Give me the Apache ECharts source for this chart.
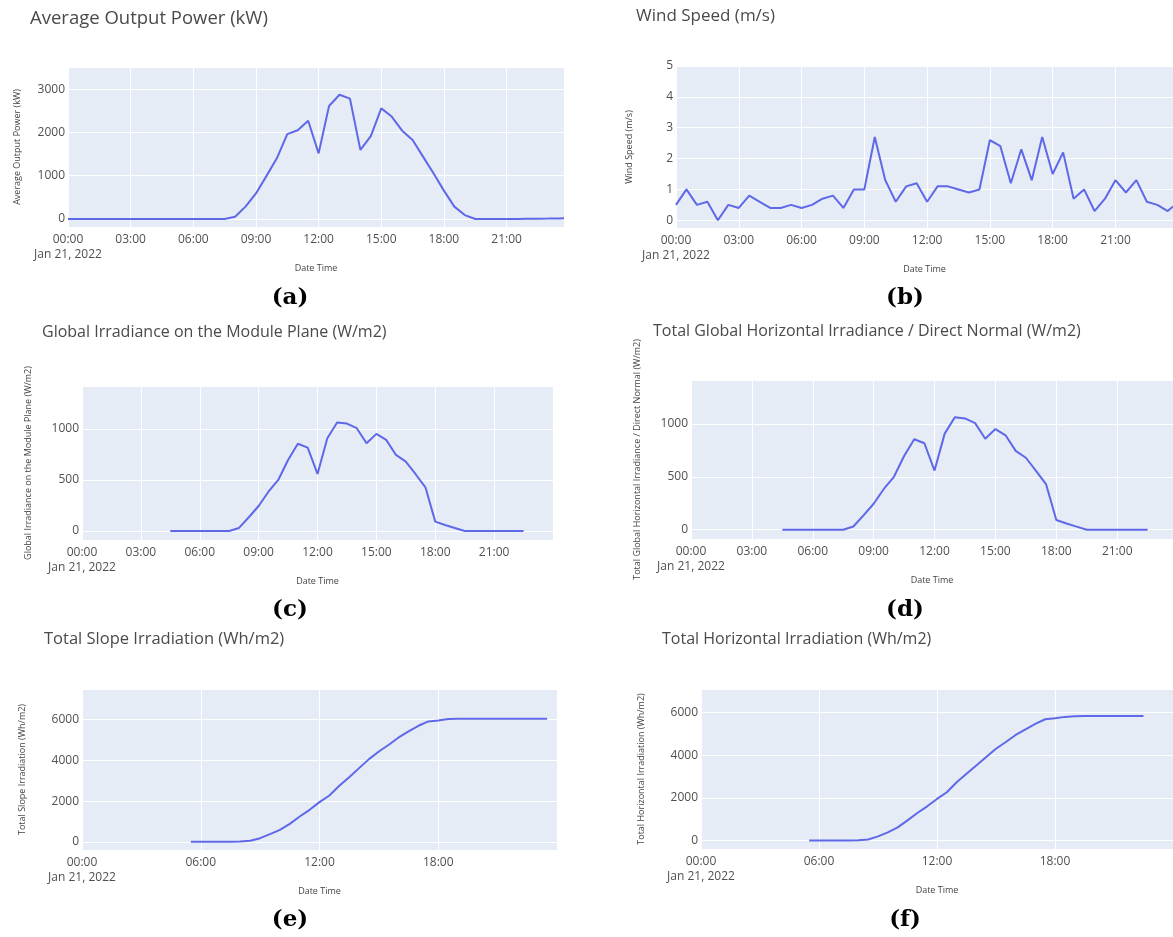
<!DOCTYPE html>
<html>
<head>
<meta charset="utf-8">
<title>PV plant - Jan 21, 2022</title>
<script src="https://cdn.jsdelivr.net/npm/echarts@6/dist/echarts.min.js"></script>
<style>
  html, body { margin: 0; padding: 0; background: #fff; }
  #chart { width: 1173px; height: 937px; }
</style>
</head>
<body>
<div id="chart"></div>
<script>
// ---- data ----
// half-hourly stamps, whole day
const timesDay = ['00:00', '00:30', '01:00', '01:30', '02:00', '02:30', '03:00', '03:30',
  '04:00', '04:30', '05:00', '05:30', '06:00', '06:30', '07:00', '07:30',
  '08:00', '08:30', '09:00', '09:30', '10:00', '10:30', '11:00', '11:30',
  '12:00', '12:30', '13:00', '13:30', '14:00', '14:30', '15:00', '15:30',
  '16:00', '16:30', '17:00', '17:30', '18:00', '18:30', '19:00', '19:30',
  '20:00', '20:30', '21:00', '21:30', '22:00', '22:30', '23:00', '23:30', '23:45'];

// (a) average output power, kW
const outputPower = [0, 0, 0, 0, 0, 0, 0, 0,
  0, 0, 0, 0, 0, 0, 0, 0,
  50, 285, 590, 990, 1400, 1960, 2050, 2270,
  1515, 2610, 2870, 2780, 1595, 1915, 2555, 2365,
  2040, 1825, 1440, 1055, 655, 285, 90, 0,
  0, 0, 0, 0, 5, 8, 10, 14, 15];

// (b) wind speed, m/s
const windSpeed = [0.5, 1.0, 0.5, 0.6, 0, 0.5, 0.4, 0.8,
  0.6, 0.4, 0.4, 0.5, 0.4, 0.5, 0.7, 0.8,
  0.4, 1.0, 1.0, 2.7, 1.3, 0.6, 1.1, 1.2,
  0.6, 1.1, 1.1, 1.0, 0.9, 1.0, 2.6, 2.4,
  1.2, 2.3, 1.3, 2.7, 1.5, 2.2, 0.7, 1.0,
  0.3, 0.7, 1.3, 0.9, 1.3, 0.6, 0.5, 0.3, 0.45];

// (c) / (d) irradiance, W/m2 (both panels show the same curve)
const timesIrr = ['04:30', '05:00', '05:30', '06:00', '06:30', '07:00', '07:30',
  '08:00', '08:30', '09:00', '09:30', '10:00', '10:30', '11:00', '11:30',
  '12:00', '12:30', '13:00', '13:30', '14:00', '14:30', '15:00', '15:30',
  '16:00', '16:30', '17:00', '17:30', '18:00', '18:30', '19:00', '19:30',
  '20:00', '20:30', '21:00', '21:30', '22:00', '22:30'];
const irrModule = [0, 0, 0, 0, 0, 0, 0,
  30, 135, 245, 385, 500, 696, 855, 817,
  559, 908, 1062, 1052, 1007, 860, 951, 892,
  745, 680, 556, 428, 92, 59, 29, 0,
  0, 0, 0, 0, 0, 0];
const irrHorizontal = [0, 0, 0, 0, 0, 0, 0,
  30, 135, 245, 385, 500, 696, 855, 817,
  559, 908, 1062, 1052, 1007, 860, 951, 892,
  745, 680, 556, 428, 92, 59, 29, 0,
  0, 0, 0, 0, 0, 0];

// (e) total slope irradiation, Wh/m2
const timesSlope = ['05:30', '06:00', '06:30', '07:00', '07:30',
  '08:00', '08:30', '09:00', '09:30', '10:00', '10:30', '11:00', '11:30',
  '12:00', '12:30', '13:00', '13:30', '14:00', '14:30', '15:00', '15:30',
  '16:00', '16:30', '17:00', '17:30', '18:00', '18:30', '19:00', '19:30',
  '20:00', '20:30', '21:00', '21:30', '22:00', '22:30', '23:00', '23:30'];
const slopeIrradiation = [0, 0, 0, 0, 0,
  15, 50, 180, 376, 590, 884, 1244, 1571,
  1948, 2275, 2750, 3175, 3617, 4059, 4435, 4763,
  5123, 5417, 5695, 5908, 5957, 6023, 6039, 6040,
  6040, 6040, 6040, 6040, 6040, 6040, 6040, 6040];

// (f) total horizontal irradiation, Wh/m2
const timesHoriz = ['05:30', '06:00', '06:30', '07:00', '07:30',
  '08:00', '08:30', '09:00', '09:30', '10:00', '10:30', '11:00', '11:30',
  '12:00', '12:30', '13:00', '13:30', '14:00', '14:30', '15:00', '15:30',
  '16:00', '16:30', '17:00', '17:30', '18:00', '18:30', '19:00', '19:30',
  '20:00', '20:30', '21:00', '21:30', '22:00', '22:30'];
const horizIrradiation = [0, 0, 0, 0, 0,
  10, 47, 190, 377, 612, 942, 1287, 1601,
  1947, 2261, 2732, 3124, 3516, 3909, 4301, 4615,
  4945, 5212, 5463, 5683, 5730, 5793, 5824, 5830,
  5830, 5830, 5830, 5830, 5830, 5830];

const dateLabel = 'Jan 21, 2022';

// ---- layout of the six panels ----
// (the screenshots were scaled a bit differently, so title sizes differ)
const panels = [
  { title: 'Average Output Power (kW)', tl: [30, 9], ts: 18.5, yName: 'Average Output Power (kW)', times: timesDay, values: outputPower,
    grid: { left: 68, top: 67, width: 496, height: 160 }, xMax: 23.75, xStep: 3,
    yMin: -185, yMax: 3510, yStep: 1000, yGap: 46, cap: '(a)', capPos: [290, 298] },
  { title: 'Wind Speed (m/s)', tl: [636, 8], ts: 17, yName: 'Wind Speed (m/s)', times: timesDay, values: windSpeed,
    grid: { left: 676, top: 66, width: 497, height: 162 }, xMax: 23.75, xStep: 3,
    yMin: -0.25, yMax: 5, yStep: 1, yGap: 42, cap: '(b)', capPos: [905, 298] },
  { title: 'Global Irradiance on the Module Plane (W/m2)', tl: [42, 324], ts: 16, yName: 'Global Irradiance on the Module Plane (W/m2)', times: timesIrr, values: irrModule,
    grid: { left: 82, top: 386, width: 471, height: 154 }, xMax: 24, xStep: 3,
    yMin: -88, yMax: 1420, yStep: 500, yGap: 49, cap: '(c)', capPos: [290, 610] },
  { title: 'Total Global Horizontal Irradiance / Direct Normal (W/m2)', tl: [653, 323], ts: 16, yName: 'Total Global Horizontal Irradiance / Direct Normal (W/m2)', times: timesIrr, values: irrHorizontal,
    grid: { left: 691, top: 380, width: 482, height: 159 }, xMax: 23.75, xStep: 3,
    yMin: -88, yMax: 1415, yStep: 500, yGap: 49, cap: '(d)', capPos: [905, 610] },
  { title: 'Total Slope Irradiation (Wh/m2)', tl: [44, 631], ts: 16.5, yName: 'Total Slope Irradiation (Wh/m2)', times: timesSlope, values: slopeIrradiation,
    grid: { left: 82, top: 689, width: 475, height: 161 }, xMax: 24, xStep: 6,
    yMin: -400, yMax: 7500, yStep: 2000, yGap: 55, cap: '(e)', capPos: [290, 920] },
  { title: 'Total Horizontal Irradiation (Wh/m2)', tl: [662, 631], ts: 16, yName: 'Total Horizontal Irradiation (Wh/m2)', times: timesHoriz, values: horizIrradiation,
    grid: { left: 701, top: 689, width: 472, height: 160 }, xMax: 24, xStep: 6,
    yMin: -400, yMax: 7100, yStep: 2000, yGap: 55, cap: '(f)', capPos: [905, 920] }
];

const font = 'Open Sans';
const tickColor = '#505050';
const lineColor = '#5F68E8';

function toHour(t) {
  const parts = t.split(':');
  return +parts[0] + parts[1] / 60;
}
function hourLabel(v) {
  const s = (v < 10 ? '0' : '') + v + ':00';
  return v === 0 ? s + '\n' + dateLabel : s;
}

const option = {
  animation: false,
  title: [],
  grid: [],
  xAxis: [],
  yAxis: [],
  series: [],
  graphic: []
};

panels.forEach(function (p, i) {
  option.title.push({
    text: p.title, left: p.tl[0], top: p.tl[1], padding: 0,
    textStyle: { fontFamily: font, fontSize: p.ts, fontWeight: 'normal', color: '#4a4a4a' }
  });
  option.grid.push(Object.assign({ show: true, backgroundColor: '#E5ECF6', borderWidth: 0 }, p.grid));
  option.xAxis.push({
    type: 'value', gridIndex: i, min: 0, max: p.xMax,
    minInterval: p.xStep, maxInterval: p.xStep,
    name: 'Date Time', nameLocation: 'middle', nameGap: 37,
    nameTextStyle: { fontFamily: font, fontSize: 9, color: '#444' },
    axisLine: { show: false }, axisTick: { show: false },
    axisLabel: { fontFamily: font, fontSize: 12, color: tickColor, margin: 5, lineHeight: 15,
      showMaxLabel: false, formatter: hourLabel },
    splitLine: { lineStyle: { color: '#fff', width: 1 } }
  });
  option.yAxis.push({
    type: 'value', gridIndex: i, min: p.yMin, max: p.yMax,
    minInterval: p.yStep, maxInterval: p.yStep,
    name: p.yName, nameLocation: 'middle', nameGap: p.yGap,
    nameTextStyle: { fontFamily: font, fontSize: 9, color: '#444' },
    axisLine: { show: false }, axisTick: { show: false },
    axisLabel: { fontFamily: font, fontSize: 12, color: tickColor, margin: 3,
      showMinLabel: false, showMaxLabel: p.yMax % p.yStep === 0,
      formatter: function (v) { return String(v); } },
    splitLine: { lineStyle: { color: '#fff', width: 1 } }
  });
  option.series.push({
    type: 'line', xAxisIndex: i, yAxisIndex: i,
    showSymbol: false,
    lineStyle: { color: lineColor, width: 2 },
    data: p.times.map(function (t, k) { return [toHour(t), p.values[k]]; })
  });
  option.graphic.push({
    type: 'text', x: p.capPos[0], y: p.capPos[1],
    style: { text: p.cap, fontFamily: 'DejaVu Serif', fontWeight: 'bold', fontSize: 23,
      fill: '#000', align: 'center', verticalAlign: 'middle' }
  });
});

const myChart = echarts.init(document.getElementById('chart'));
myChart.setOption(option);
</script>
</body>
</html>
